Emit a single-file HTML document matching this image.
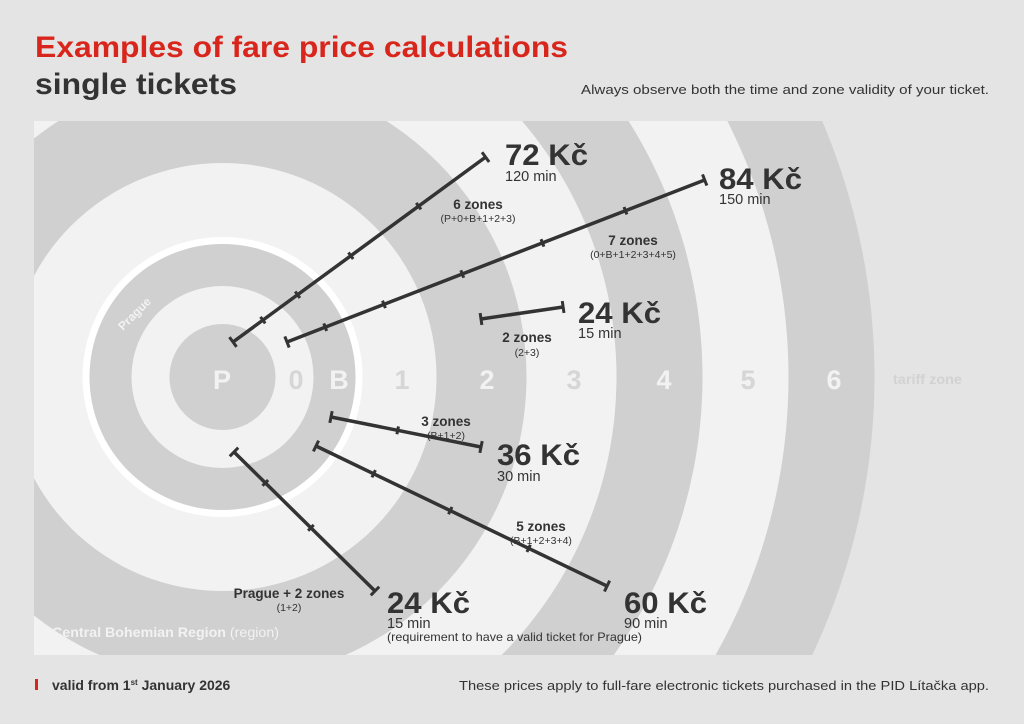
<!DOCTYPE html>
<html><head><meta charset="utf-8"><style>
html,body{margin:0;padding:0;background:#e4e4e4;width:1024px;height:724px;overflow:hidden;}
svg{display:block;font-family:"Liberation Sans",sans-serif;}
.k{font-weight:bold;font-size:30px;fill:#333}
.m{font-size:14.5px;fill:#333}
.z{font-weight:bold;font-size:13.5px;fill:#333;text-anchor:middle}
.s{font-size:10.5px;fill:#333;text-anchor:middle}
.n{font-weight:bold;font-size:27px;text-anchor:middle}
.ln line{stroke:#333;stroke-width:3.5}
.ln line.c{stroke-width:3}
</style></head><body>
<svg width="1024" height="724" viewBox="0 0 1024 724">
<rect width="1024" height="724" fill="#e4e4e4"/>
<text x="35" y="57" font-size="30" font-weight="bold" fill="#d9261c" textLength="533" lengthAdjust="spacingAndGlyphs">Examples of fare price calculations</text>
<text x="35" y="94" font-size="30" font-weight="bold" fill="#333" textLength="202" lengthAdjust="spacingAndGlyphs">single tickets</text>
<text x="581" y="94" font-size="13" fill="#333" textLength="408" lengthAdjust="spacingAndGlyphs">Always observe both the time and zone validity of your ticket.</text>
<defs><clipPath id="cp"><rect x="34" y="121" width="960" height="534"/></clipPath></defs>
<g clip-path="url(#cp)">
<circle cx="222.5" cy="377" r="652" fill="#d0d0d0"/>
<circle cx="222.5" cy="377" r="566" fill="#f2f2f2"/>
<circle cx="222.5" cy="377" r="480" fill="#d0d0d0"/>
<circle cx="222.5" cy="377" r="394" fill="#f2f2f2"/>
<circle cx="222.5" cy="377" r="304" fill="#d0d0d0"/>
<circle cx="222.5" cy="377" r="214" fill="#f2f2f2"/>
<circle cx="222.5" cy="377" r="140" fill="#ffffff"/>
<circle cx="222.5" cy="377" r="133" fill="#d0d0d0"/>
<circle cx="222.5" cy="377" r="91" fill="#f2f2f2"/>
<circle cx="222.5" cy="377" r="53" fill="#d0d0d0"/>
</g>
<text class="n" x="222" y="389" fill="#f2f2f2">P</text>
<text class="n" x="296" y="389" fill="#d6d6d6">0</text>
<text class="n" x="339" y="389" fill="#f2f2f2">B</text>
<text class="n" x="402" y="389" fill="#d6d6d6">1</text>
<text class="n" x="487" y="389" fill="#f2f2f2">2</text>
<text class="n" x="574" y="389" fill="#d6d6d6">3</text>
<text class="n" x="664" y="389" fill="#f2f2f2">4</text>
<text class="n" x="748" y="389" fill="#d6d6d6">5</text>
<text class="n" x="834" y="389" fill="#f2f2f2">6</text>
<text x="893" y="384" font-size="14" font-weight="bold" fill="#d2d2d2" textLength="69" lengthAdjust="spacingAndGlyphs">tariff zone</text>
<text x="0" y="0" font-size="12" font-weight="bold" fill="#f2f2f2" transform="translate(123,331) rotate(-45)">Prague</text>
<text x="52" y="637" font-size="14" font-weight="bold" fill="#f2f2f2" textLength="227" lengthAdjust="spacingAndGlyphs">Central Bohemian Region <tspan font-weight="normal">(region)</tspan></text>

<g class="ln">
<g transform="translate(233,342) rotate(-36.2)"><line x1="0" y1="0" x2="313" y2="0"/><line class="c" x1="0" y1="-6" x2="0" y2="6"/><line class="c" x1="313" y1="-6" x2="313" y2="6"/><line class="c" x1="37" y1="-4" x2="37" y2="4"/><line class="c" x1="80" y1="-4" x2="80" y2="4"/><line class="c" x1="146" y1="-4" x2="146" y2="4"/><line class="c" x1="230" y1="-4" x2="230" y2="4"/></g>
<g transform="translate(287,342) rotate(-21.2)"><line x1="0" y1="0" x2="448" y2="0"/><line class="c" x1="0" y1="-6" x2="0" y2="6"/><line class="c" x1="448" y1="-6" x2="448" y2="6"/><line class="c" x1="41" y1="-4" x2="41" y2="4"/><line class="c" x1="104" y1="-4" x2="104" y2="4"/><line class="c" x1="188" y1="-4" x2="188" y2="4"/><line class="c" x1="274" y1="-4" x2="274" y2="4"/><line class="c" x1="363" y1="-4" x2="363" y2="4"/></g>
<g transform="translate(481,319) rotate(-8.3)"><line x1="0" y1="0" x2="83" y2="0"/><line class="c" x1="0" y1="-6" x2="0" y2="6"/><line class="c" x1="83" y1="-6" x2="83" y2="6"/></g>
<g transform="translate(331,417) rotate(11.3)"><line x1="0" y1="0" x2="153" y2="0"/><line class="c" x1="0" y1="-6" x2="0" y2="6"/><line class="c" x1="153" y1="-6" x2="153" y2="6"/><line class="c" x1="68" y1="-4" x2="68" y2="4"/></g>
<g transform="translate(316,446) rotate(25.7)"><line x1="0" y1="0" x2="323" y2="0"/><line class="c" x1="0" y1="-6" x2="0" y2="6"/><line class="c" x1="323" y1="-6" x2="323" y2="6"/><line class="c" x1="64" y1="-4" x2="64" y2="4"/><line class="c" x1="149" y1="-4" x2="149" y2="4"/><line class="c" x1="236" y1="-4" x2="236" y2="4"/></g>
<g transform="translate(234,452) rotate(44.6)"><line x1="0" y1="0" x2="198" y2="0"/><line class="c" x1="0" y1="-6" x2="0" y2="6"/><line class="c" x1="198" y1="-6" x2="198" y2="6"/><line class="c" x1="44" y1="-4" x2="44" y2="4"/><line class="c" x1="108" y1="-4" x2="108" y2="4"/></g>
</g>

<text class="k" x="505" y="165" textLength="83" lengthAdjust="spacingAndGlyphs">72 Kč</text><text class="m" x="505" y="181">120 min</text>
<text class="k" x="719" y="189" textLength="83" lengthAdjust="spacingAndGlyphs">84 Kč</text><text class="m" x="719" y="204">150 min</text>
<text class="k" x="578" y="323" textLength="83" lengthAdjust="spacingAndGlyphs">24 Kč</text><text class="m" x="578" y="338">15 min</text>
<text class="k" x="497" y="465" textLength="83" lengthAdjust="spacingAndGlyphs">36 Kč</text><text class="m" x="497" y="481">30 min</text>
<text class="k" x="624" y="613" textLength="83" lengthAdjust="spacingAndGlyphs">60 Kč</text><text class="m" x="624" y="628">90 min</text>
<text class="k" x="387" y="613" textLength="83" lengthAdjust="spacingAndGlyphs">24 Kč</text><text class="m" x="387" y="628">15 min</text>
<text x="387" y="641" font-size="12" fill="#333" textLength="255" lengthAdjust="spacingAndGlyphs">(requirement to have a valid ticket for Prague)</text>

<text class="z" x="478" y="209">6 zones</text><text class="s" x="478" y="222">(P+0+B+1+2+3)</text>
<text class="z" x="633" y="245">7 zones</text><text class="s" x="633" y="258">(0+B+1+2+3+4+5)</text>
<text class="z" x="527" y="342">2 zones</text><text class="s" x="527" y="356">(2+3)</text>
<text class="z" x="446" y="426">3 zones</text><text class="s" x="446" y="439">(B+1+2)</text>
<text class="z" x="541" y="531">5 zones</text><text class="s" x="541" y="544">(B+1+2+3+4)</text>
<text class="z" x="289" y="598">Prague + 2 zones</text><text class="s" x="289" y="611">(1+2)</text>

<rect x="35" y="679" width="3" height="11" fill="#d9261c"/>
<text x="52" y="690" font-size="14" font-weight="bold" fill="#333">valid from 1<tspan font-size="8" dy="-5">st</tspan><tspan dy="5"> January 2026</tspan></text>
<text x="989" y="690" font-size="13" fill="#333" text-anchor="end" textLength="530" lengthAdjust="spacingAndGlyphs">These prices apply to full-fare electronic tickets purchased in the PID Lítačka app.</text>
</svg>
</body></html>
